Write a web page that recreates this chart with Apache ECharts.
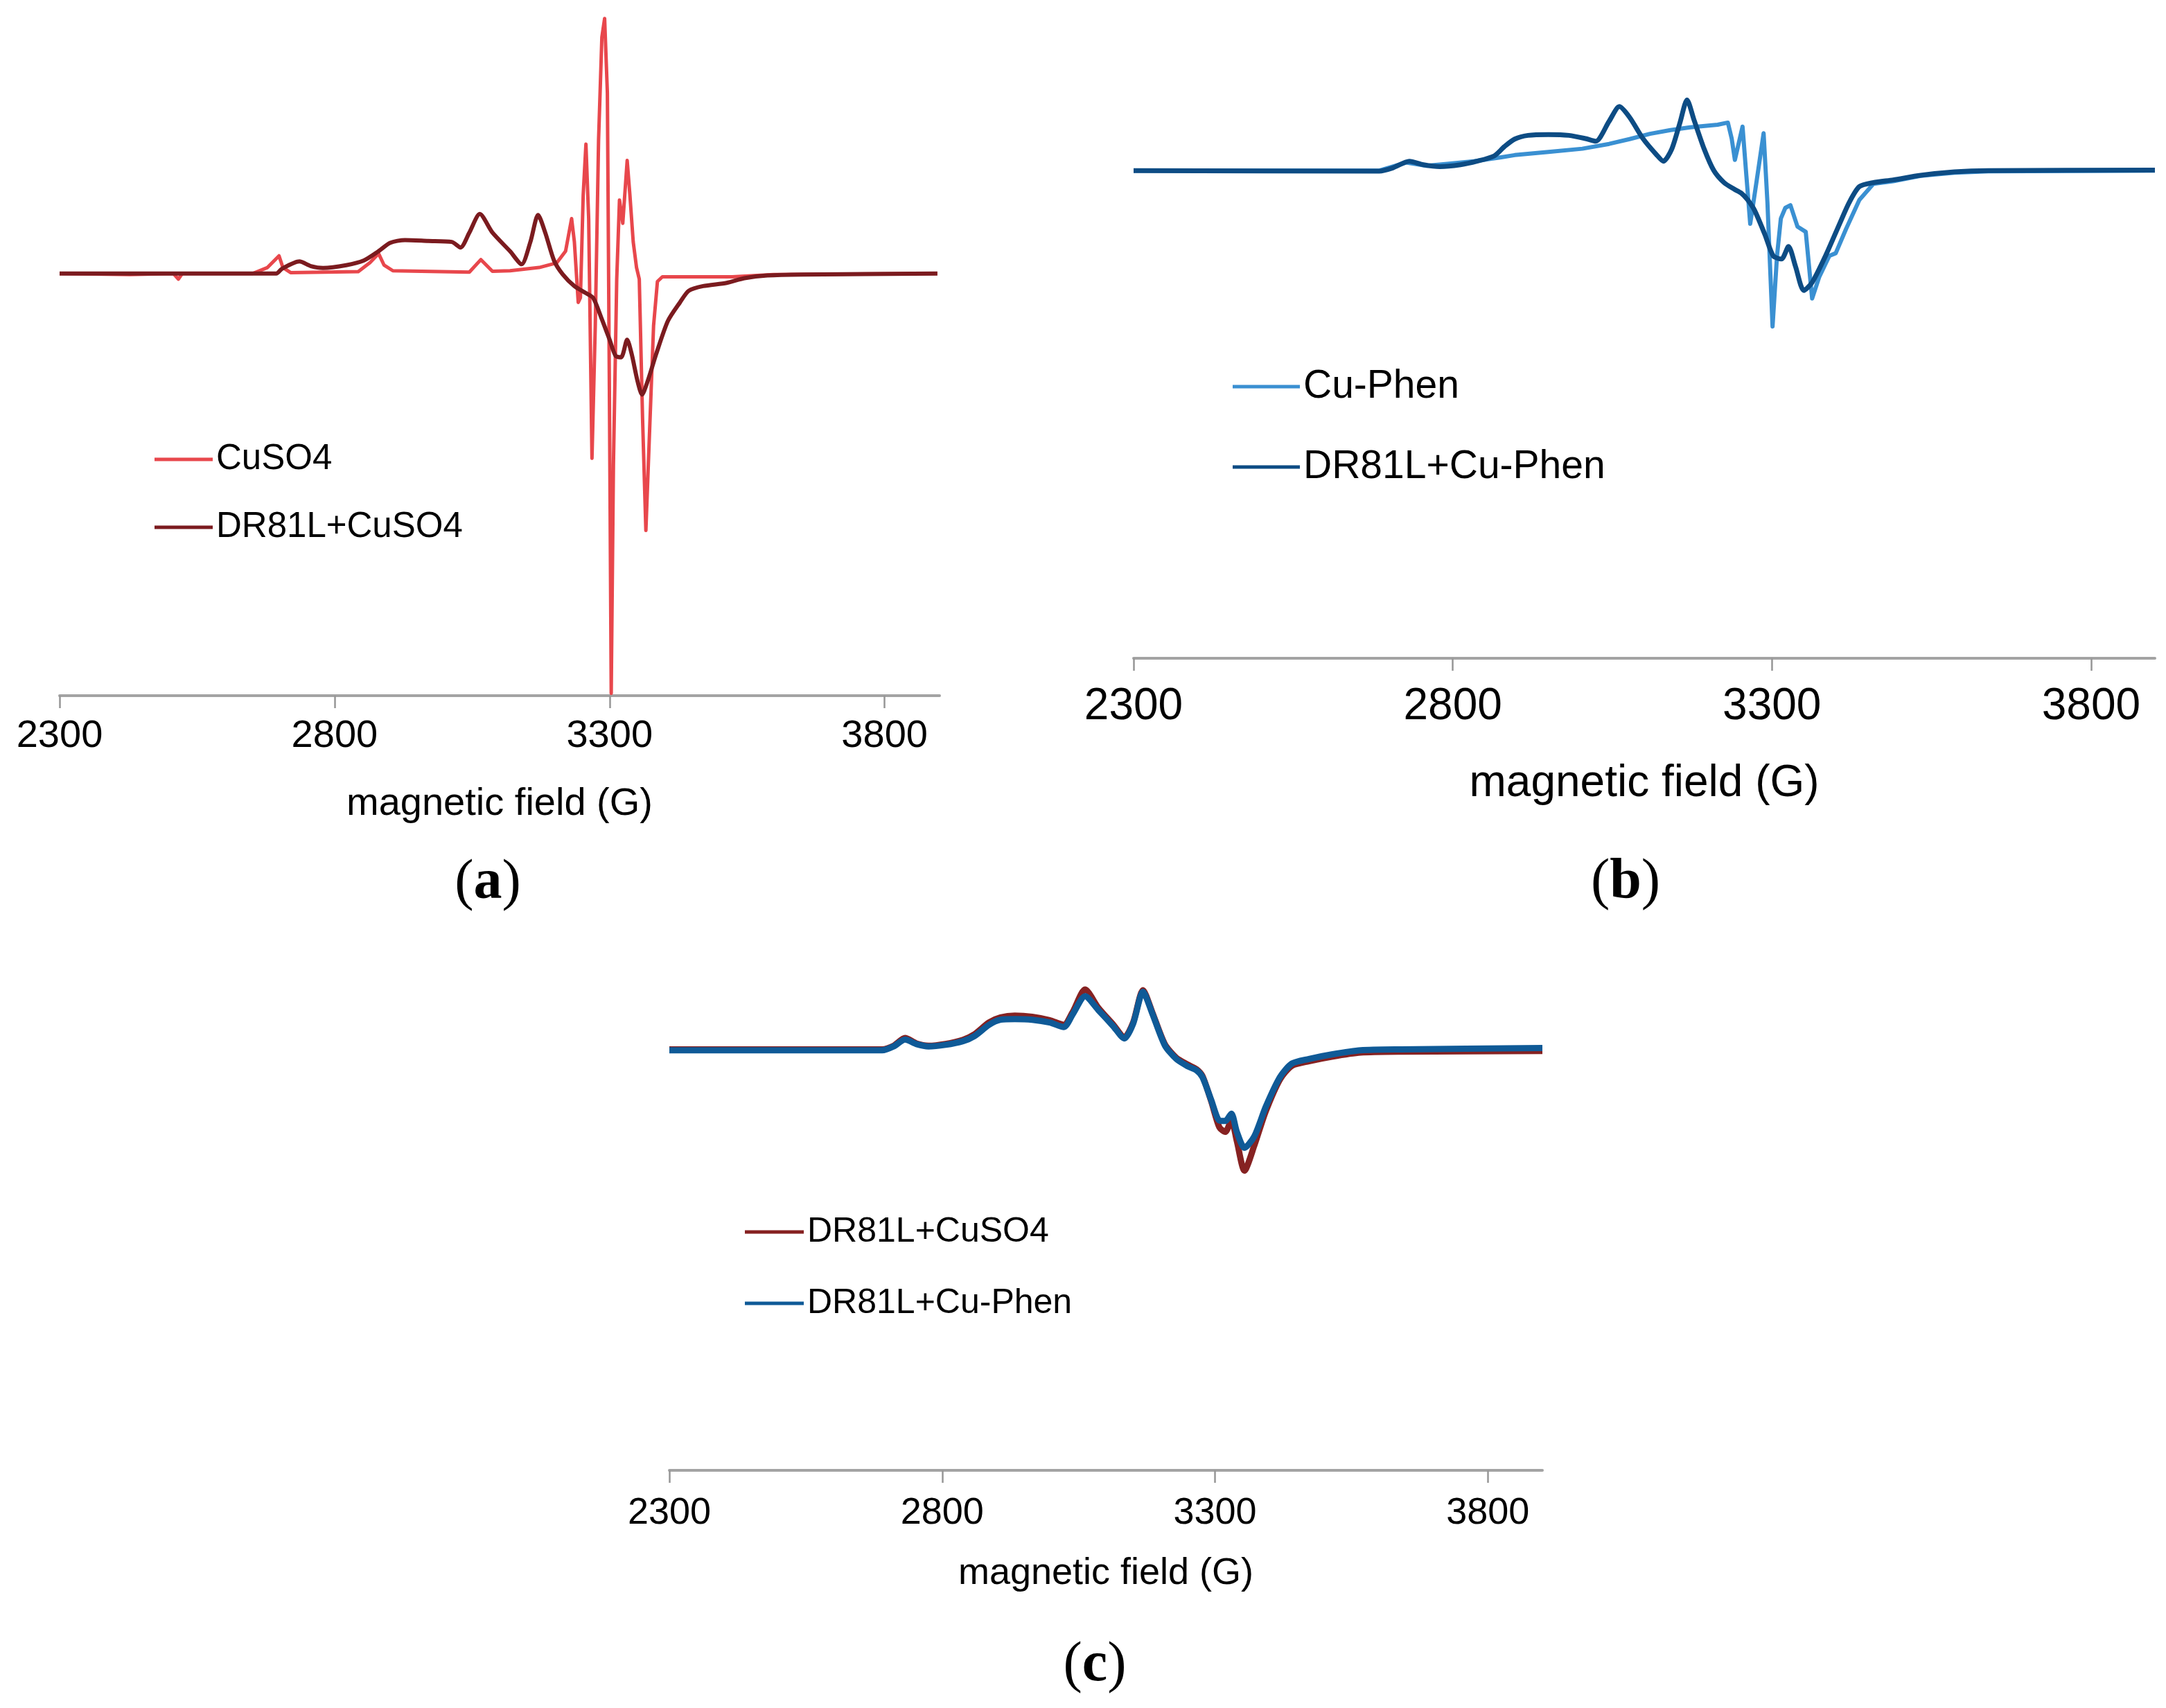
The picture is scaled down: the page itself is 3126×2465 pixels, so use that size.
<!DOCTYPE html>
<html>
<head>
<meta charset="utf-8">
<title>EPR spectra</title>
<script src="https://cdn.jsdelivr.net/npm/echarts@6.0.0/dist/echarts.min.js"></script>
<style>
html, body { margin: 0; padding: 0; background: #fff; }
#main { width: 3126px; height: 2465px; }
</style>
</head>
<body>
<div id="main"></div>
<script>
// x axis (magnetic field, G)
var fieldTicks = [2300, 2800, 3300, 3800];
var fieldMin = 2300;
var fieldMax = 3900;
var axisTitle = 'magnetic field (G)';

// (a) pairs of [field G, signal a.u.]
var cuso4A = [[2300,0],[2428,-2],[2507,0],[2516,-12],[2523,0],[2651,0],[2678,13],[2699,38],[2706,13],[2720,2],
  [2843,4],[2864,23],[2880,43],[2890,18],[2906,6],[3045,3],[3066,30],[3087,5],[3119,6],[3172,13],[3204,23],
  [3220,48],[3231,118],[3236,68],[3243,-62],[3247,-52],[3252,168],[3257,278],[3262,118],[3268,-397],[3274,-112],
  [3280,288],[3286,508],[3291,548],[3296,388],[3300,-312],[3303,-902],[3307,-412],[3313,-12],[3318,158],[3324,108],
  [3332,243],[3337,168],[3343,68],[3349,13],[3354,-12],[3360,-312],[3366,-552],[3372,-362],[3380,-112],[3387,-17],
  [3396,-7],[3523,-7],[3598,-2],[3896,0]];
var dr81lCuso4A = [[2300,0],[2694,0],[2704,10],[2736,26],[2757,16],[2779,12],[2821,18],[2853,28],[2880,48],
  [2901,66],[2928,72],[2970,70],[3013,68],[3029,56],[3045,88],[3064,128],[3087,88],[3119,48],[3140,20],[3156,68],
  [3170,126],[3183,88],[3199,28],[3215,-2],[3236,-27],[3257,-42],[3270,-52],[3284,-92],[3300,-142],[3311,-177],
  [3321,-180],[3332,-142],[3340,-172],[3351,-232],[3359,-260],[3369,-232],[3385,-172],[3406,-102],[3428,-62],
  [3444,-37],[3470,-27],[3513,-20],[3545,-10],[3587,-4],[3651,-2],[3896,0]];

// (b)
var cuPhenB = [[2300,0],[2685,0],[2727,30],[2759,18],[2791,25],[2833,35],[2876,50],[2897,58],[2950,70],[3003,82],
  [3045,100],[3077,118],[3109,138],[3141,152],[3172,162],[3215,172],[3231,180],[3237,120],[3242,40],[3254,165],
  [3260,-20],[3266,-200],[3276,-40],[3287,140],[3293,-120],[3301,-585],[3308,-320],[3314,-180],[3321,-140],
  [3329,-130],[3340,-210],[3353,-230],[3363,-480],[3374,-400],[3390,-320],[3400,-310],[3416,-220],[3437,-110],
  [3459,-50],[3490,-40],[3533,-20],[3586,-8],[3639,-3],[3900,0]];
var dr81lCuPhenB = [[2300,0],[2685,-2],[2706,10],[2732,35],[2754,22],[2780,15],[2812,22],[2838,35],[2865,55],
  [2881,90],[2897,118],[2918,132],[2950,135],[2982,132],[3008,120],[3024,110],[3045,185],[3061,240],[3077,200],
  [3098,120],[3119,60],[3130,35],[3143,80],[3156,180],[3167,265],[3178,190],[3194,80],[3209,0],[3225,-45],
  [3241,-70],[3252,-85],[3262,-110],[3273,-150],[3289,-240],[3302,-320],[3315,-332],[3326,-285],[3337,-360],
  [3350,-450],[3363,-420],[3384,-320],[3406,-200],[3421,-120],[3437,-60],[3459,-45],[3490,-35],[3533,-18],
  [3586,-5],[3639,0],[3900,2]];

// (c)
var dr81lCuso4C = [[2300,2],[2690,2],[2711,18],[2732,52],[2753,28],[2775,18],[2806,26],[2838,44],[2859,68],
  [2886,120],[2907,142],[2933,150],[2965,145],[2997,130],[3023,110],[3039,165],[3062,265],[3086,185],[3113,112],
  [3134,55],[3150,120],[3168,262],[3185,165],[3208,25],[3229,-35],[3250,-65],[3266,-85],[3277,-115],[3293,-225],
  [3308,-340],[3319,-360],[3330,-310],[3340,-400],[3354,-530],[3372,-420],[3393,-270],[3419,-130],[3441,-70],
  [3472,-50],[3514,-30],[3567,-12],[3641,-8],[3900,-5]];
var dr81lCuPhenC = [[2300,-2],[2690,-2],[2711,15],[2732,45],[2753,25],[2775,15],[2806,22],[2838,38],[2859,60],
  [2886,110],[2907,132],[2933,135],[2965,132],[2997,120],[3023,100],[3039,155],[3062,235],[3086,175],[3113,105],
  [3134,50],[3150,115],[3168,255],[3185,160],[3208,20],[3229,-40],[3250,-72],[3266,-90],[3277,-120],[3293,-220],
  [3308,-310],[3319,-312],[3330,-280],[3340,-360],[3354,-430],[3372,-380],[3393,-250],[3419,-120],[3441,-60],
  [3472,-40],[3514,-20],[3567,-2],[3641,2],[3900,8]];

var FONT = "'Liberation Sans', Arial, sans-serif";
var SERIF = "'Liberation Serif', 'Times New Roman', serif";

// one bottom axis per panel, Excel look
function fieldAxis(idx, fontSize, margin, nameGap) {
  return {
    type: 'value', gridIndex: idx, min: fieldMin, max: fieldMax,
    name: axisTitle, nameLocation: 'middle', nameGap: nameGap,
    nameTextStyle: { fontSize: fontSize, color: '#000', fontFamily: FONT },
    splitLine: { show: false },
    axisLine: { onZero: false, lineStyle: { color: '#A3A3A3', width: 4 } },
    axisTick: { customValues: fieldTicks, length: 18, lineStyle: { color: '#969696', width: 2.5 } },
    axisLabel: {
      customValues: fieldTicks, fontSize: fontSize, color: '#000', fontFamily: FONT, margin: margin,
      formatter: function (v) { return String(v); }
    }
  };
}

function curve(name, idx, data, color, width, smooth) {
  return {
    name: name, type: 'line', xAxisIndex: idx, yAxisIndex: idx, data: data,
    symbol: 'none', showSymbol: false, silent: true,
    smooth: smooth || false,
    itemStyle: { color: color },
    lineStyle: { color: color, width: width, join: 'round' }
  };
}

// single legend entry so every line sits where the figure has it
function legendItem(name, color, left, cy, lineW, fontSize) {
  return {
    data: [{ name: name, itemStyle: { color: color } }],
    left: left, top: cy - 30, padding: 0,
    icon: 'rect', itemWidth: lineW, itemHeight: 5,
    selectedMode: false,
    textStyle: { fontSize: fontSize, color: '#000', fontFamily: FONT, lineHeight: 60 }
  };
}

function panelLabel(letter, x, y) {
  return {
    type: 'text', x: x, y: y, silent: true,
    style: {
      text: '{p|(}{b|' + letter + '}{p|)}',
      align: 'center', verticalAlign: 'middle',
      textAlign: 'center', textVerticalAlign: 'middle',
      rich: {
        p: { fontFamily: SERIF, fontSize: 82, color: '#000' },
        b: { fontFamily: SERIF, fontSize: 82, fontWeight: 'bold', color: '#000' }
      }
    }
  };
}

var chart = echarts.init(document.getElementById('main'));
chart.setOption({
  backgroundColor: '#fff',
  animation: false,
  grid: [
    { left: 86, top: 20, width: 1270, height: 984 },
    { left: 1636, top: 100, width: 1474, height: 850 },
    { left: 966, top: 1400, width: 1260, height: 722 }
  ],
  xAxis: [
    fieldAxis(0, 56, 31, 129),
    fieldAxis(1, 64, 38, 149),
    fieldAxis(2, 54, 35, 122)
  ],
  yAxis: [
    { gridIndex: 0, type: 'value', min: -907, max: 558, show: false },
    { gridIndex: 1, type: 'value', min: -1830, max: 380, show: false },
    { gridIndex: 2, type: 'value', min: -1845, max: 350, show: false }
  ],
  legend: [
    legendItem('CuSO4', '#E8474C', 223, 663, 84, 51),
    legendItem('DR81L+CuSO4', '#7B1B1F', 223, 761, 84, 51),
    legendItem('Cu-Phen', '#3A90D2', 1779, 558, 97, 57),
    legendItem('DR81L+Cu-Phen', '#0D4C84', 1779, 674, 97, 57),
    legendItem('DR81L+CuSO4', '#862222', 1075, 1778, 85, 50),
    legendItem('DR81L+Cu-Phen', '#0F5A97', 1075, 1881, 85, 50)
  ],
  series: [
    curve('CuSO4', 0, cuso4A, '#E8474C', 5),
    curve('DR81L+CuSO4', 0, dr81lCuso4A, '#7B1B1F', 6, 0.25),
    curve('Cu-Phen', 1, cuPhenB, '#3A90D2', 6),
    curve('DR81L+Cu-Phen', 1, dr81lCuPhenB, '#0D4C84', 7, 0.25),
    curve('DR81L+CuSO4', 2, dr81lCuso4C, '#862222', 9, 0.25),
    curve('DR81L+Cu-Phen', 2, dr81lCuPhenC, '#0F5A97', 9, 0.25)
  ],
  graphic: [
    panelLabel('a', 704, 1275),
    panelLabel('b', 2346, 1274),
    panelLabel('c', 1580, 2404)
  ]
});
</script>
</body>
</html>
